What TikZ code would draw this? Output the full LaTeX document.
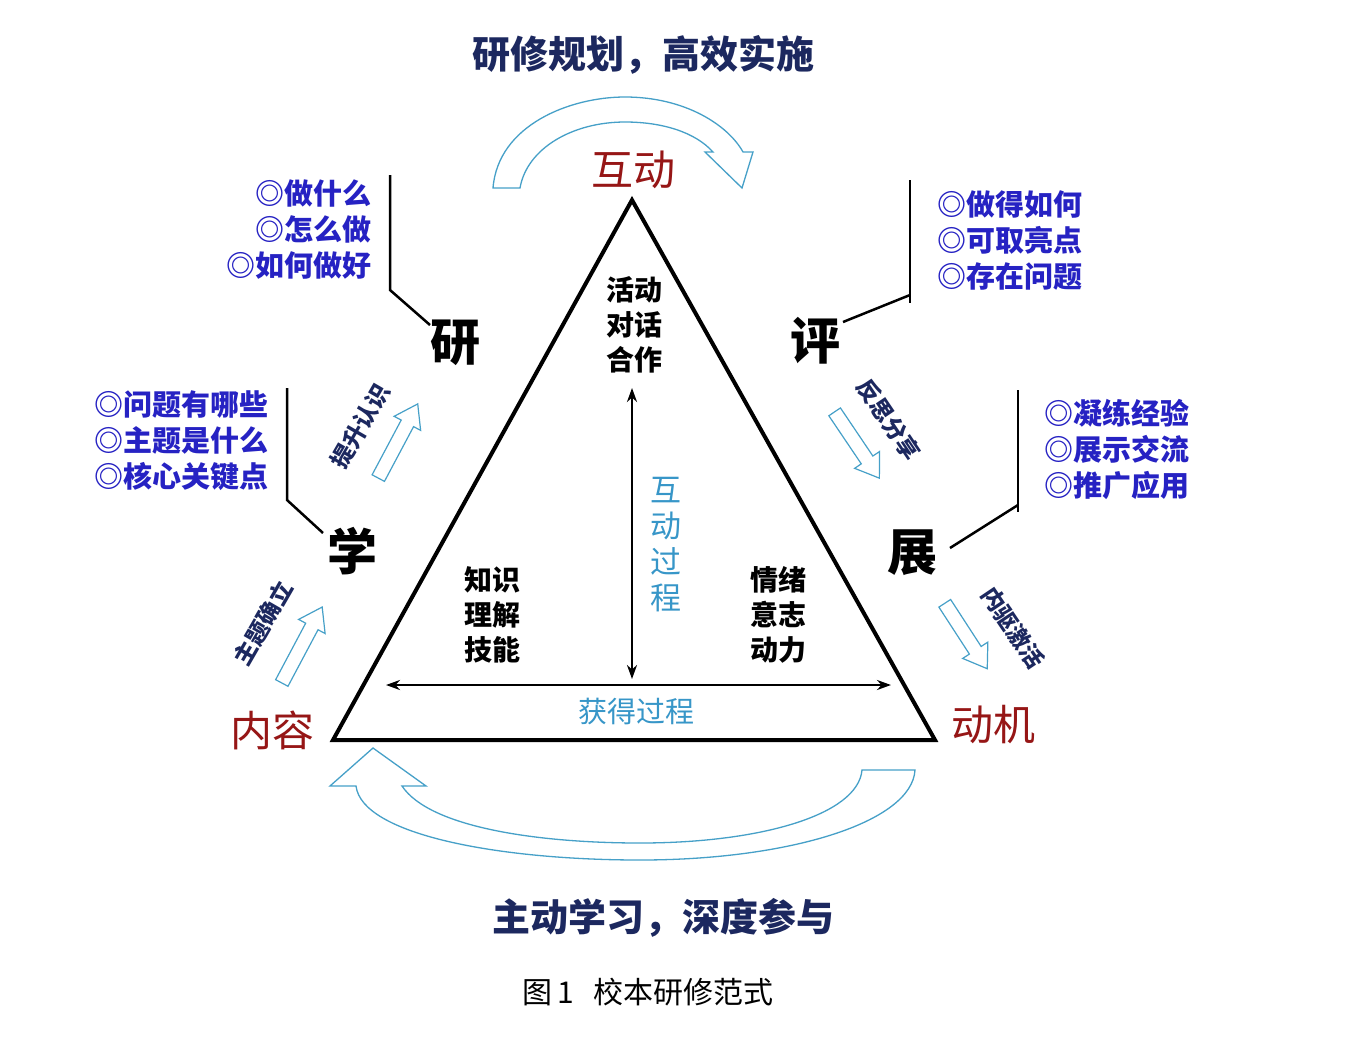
\documentclass[tikz,border=0pt]{standalone}
\usepackage{fontspec}
\setmainfont{Noto Sans CJK SC}
\usetikzlibrary{arrows.meta}
\definecolor{navy}{RGB}{28,40,95}
\definecolor{listblue}{RGB}{38,34,195}
\definecolor{dred}{RGB}{150,22,22}
\definecolor{teal}{RGB}{55,150,200}
\definecolor{arrowc}{RGB}{70,160,200}
\tikzset{
  title/.style={font=\fontsize{38}{44}\selectfont\bfseries, text=navy},
  pole/.style={font=\fontsize{42}{48}\selectfont, text=dred},
  big/.style={font=\fontsize{50}{56}\selectfont\bfseries, text=black},
  lst/.style={font=\fontsize{29}{36}\selectfont\bfseries, text=listblue, align=#1, inner sep=0pt},
  inner/.style={font=\fontsize{28}{35}\selectfont\bfseries, align=center, inner sep=0pt},
  side/.style={font=\fontsize{23}{26}\selectfont\bfseries, text=navy, inner sep=0pt},
  hollow/.style={draw=arrowc, line width=1.2pt, fill=white, line join=miter},
  leader/.style={line width=2.5pt, black},
  bigarrow/.style={draw=arrowc, line width=1.3pt, fill=white},
}
% hollow arrow along local x axis, total length #1
\newcommand{\hollowarrow}[1]{%
  (-#1/2,-7) -- (#1/2-22,-7) -- (#1/2-22,-15) -- (#1/2,0) -- (#1/2-22,15) -- (#1/2-22,7) -- (-#1/2,7) -- cycle}
\begin{document}
\begin{tikzpicture}[x=1pt,y=-1pt]
\useasboundingbox (0,0) rectangle (1365,1045);
\fill[white] (0,0) rectangle (1365,1045);

% titles
\node[title] (toptitle) at (643,55) {研修规划，高效实施};
\node[title] (bottitle) at (663,918) {主动学习，深度参与};
\node[font=\fontsize{30}{34}\selectfont] (caption) at (648,992) {图\,1\ \ \ 校本研修范式};

% top curved arrow
\path[bigarrow] (493,188) .. controls (498,125) and (570,97) .. (625,97)
  .. controls (685,97) and (728,125) .. (743,152) -- (753,152) -- (742,188) -- (705,152) -- (713,152)
  .. controls (695,132) and (662,122) .. (625,122)
  .. controls (573,122) and (527,148) .. (520,188) -- cycle;

% bottom curved arrow
\path[bigarrow] (373,748) -- (426,786) -- (402,786)
  .. controls (430,828) and (540,843) .. (640,843)
  .. controls (760,843) and (858,815) .. (862,770) -- (915,770)
  .. controls (912,822) and (790,860) .. (640,860)
  .. controls (500,860) and (362,835) .. (356,786) -- (330,786) -- cycle;

% triangle
\coordinate (apex) at (632,200);
\coordinate (bl) at (333,740);
\coordinate (br) at (935,740);
\draw[line width=4pt, line join=miter] (apex) -- (bl) -- (br) -- cycle;

% poles
\node[pole] (hudong) at (633,170) {互动};
\node[pole] (neirong) at (272,730) {内容};
\node[pole] (dongji) at (993,725) {动机};

% inner texts
\node[inner] (top3) at (634,325) {活动\\对话\\合作};
\node[inner] (left3) at (492,615) {知识\\理解\\技能};
\node[inner] (right3) at (778,615) {情绪\\意志\\动力};
\node[font=\fontsize{31}{36}\selectfont, text=teal, align=center, inner sep=0pt] (hdgc) at (666,545) {互\\动\\过\\程};
\node[font=\fontsize{29}{32}\selectfont, text=teal, inner sep=0pt] (hdgc2) at (636,711) {获得过程};
\coordinate (vtop) at (632,388);
\coordinate (vbot) at (632,679);
\coordinate (hl) at (386,685);
\coordinate (hr) at (891,685);
\draw[line width=2.5pt, {Stealth[length=14pt,width=10pt]}-{Stealth[length=14pt,width=10pt]}] (vtop) -- (vbot);
\draw[line width=2.5pt, {Stealth[length=14pt,width=10pt]}-{Stealth[length=14pt,width=10pt]}] (hl) -- (hr);

% big characters
\node[big] (yan) at (455,343) {研};
\node[big] (xue) at (352,551) {学};
\node[big] (ping) at (815,341) {评};
\node[big] (zhan) at (912,553) {展};

% lists
\node[lst=right, anchor=east] (l1) at (372,230) {◎做什么\\◎怎么做\\◎如何做好};
\node[lst=left, anchor=west] (l2) at (94,441) {◎问题有哪些\\◎主题是什么\\◎核心关键点};
\node[lst=left, anchor=west] (l3) at (937,240) {◎做得如何\\◎可取亮点\\◎存在问题};
\node[lst=left, anchor=west] (l4) at (1044,449) {◎凝练经验\\◎展示交流\\◎推广应用};

% leaders
\coordinate (a1) at (390,175); \coordinate (b1) at (390,290);
\coordinate (e1) at (430,325);
\draw[leader] (a1) -- (b1) -- (e1);
\coordinate (a2) at (287,388); \coordinate (b2) at (287,500);
\coordinate (e2) at (323,533);
\draw[leader] (a2) -- (b2) -- (e2);
\coordinate (a3) at (910,180); \coordinate (b3) at (910,303);
\coordinate (c3) at (910,295); \coordinate (e3) at (843,322);
\draw[leader] (a3) -- (b3);
\draw[leader] (c3) -- (e3);
\coordinate (a4) at (1018,390); \coordinate (b4) at (1018,512);
\coordinate (c4) at (1018,505); \coordinate (e4) at (950,548);
\draw[leader] (a4) -- (b4);
\draw[leader] (c4) -- (e4);

% side labels and hollow arrows
\node[side, rotate=60] (tsrs) at (360,426) {提升认识};
\path[hollow, shift={(398,441)}, rotate=62] \hollowarrow{84};
\node[side, rotate=60] (ztql) at (263,623) {主题确立};
\path[hollow, shift={(302,645)}, rotate=62] \hollowarrow{86};
\node[side, rotate=-56] (fsfx) at (889,420) {反思分享};
\path[hollow, shift={(857,445)}, rotate=-56] \hollowarrow{80};
\node[side, rotate=-56] (nqjh) at (1013,628) {内驱激活};
\path[hollow, shift={(966,636)}, rotate=-57] \hollowarrow{78};
\end{tikzpicture}
\end{document}
